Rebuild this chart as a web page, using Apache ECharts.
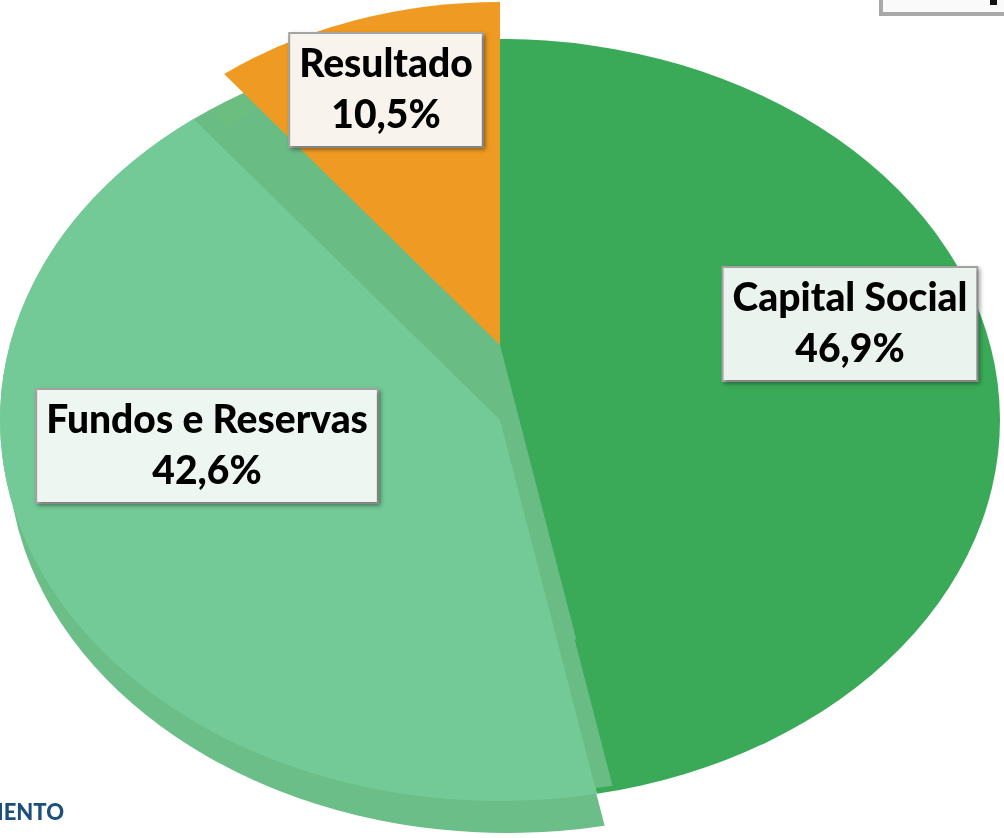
<!DOCTYPE html>
<html>
<head>
<meta charset="utf-8">
<script src="https://cdn.jsdelivr.net/npm/echarts@6.0.0/dist/echarts.min.js"></script>
<style>
html, body { margin: 0; padding: 0; background: #fff; overflow: hidden; width: 1004px; height: 838px; }
#torta { position: absolute; left: 0; top: 0; width: 1004px; height: 838px; transform: scaleX(1.3123); transform-origin: 500px 0; }
#rotulos { position: absolute; left: 0; top: 0; width: 1004px; height: 838px; }
</style>
</head>
<body>
<div id="torta"></div>
<div id="rotulos"></div>
<script>
// dados do grafico
var categorias = ['Capital Social', 'Fundos e Reservas', 'Resultado'];
var percentagens = [46.9, 42.6, 10.5];

// posicao dos rotulos (centro da caixa)
var posicoesRotulos = [[850, 324], [207, 446], [386, 90]];
var fundosRotulos = ['#ebf3ee', '#eef6f2', '#f8f3ec'];

var transparente = 'rgba(0,0,0,0)';

// uma copia das fatias, so com as cores indicadas visiveis
function fatias(cores) {
    return categorias.map(function (nome, i) {
        return {
            name: nome,
            value: percentagens[i],
            itemStyle: { color: cores[i] || transparente }
        };
    });
}

function serieTorta(nome, centro, raio, dados, z) {
    return {
        name: nome,
        type: 'pie',
        center: centro,
        radius: raio,
        startAngle: 90,
        clockwise: true,
        z: z,
        silent: true,
        animation: false,
        label: { show: false },
        labelLine: { show: false },
        itemStyle: { borderWidth: 0 },
        emphasis: { disabled: true },
        data: dados
    };
}

// torta achatada (esticada na horizontal pelo css)
var torta = echarts.init(document.getElementById('torta'), null, { renderer: 'svg' });
torta.setOption({
    animation: false,
    series: [
        serieTorta('base', [500, 420], 381, fatias(['#3aaa58', '#73ca96', '#6bbd80']), 1),
        serieTorta('lado', [506, 452], 381, fatias([null, '#6bbe88', null]), 2),
        serieTorta('corte', [512, 412], 381, fatias([null, '#6abc85', null]), 3),
        serieTorta('corteAlto', [500, 345], 300, fatias([null, '#6abc85', null]), 3),
        serieTorta('face', [500, 420], 381, fatias([null, '#73ca96', null]), 4),
        serieTorta('destaque', [500, 345], 343, fatias([null, null, '#ef9b23']), 5)
    ]
});

// rotulos por cima, sem esticar o texto
var rotulos = echarts.init(document.getElementById('rotulos'));
rotulos.setOption({
    animation: false,
    graphic: [
        {
            type: 'rect',
            shape: { x: 881, y: -20, width: 140, height: 34 },
            style: { fill: '#fafafa', stroke: '#a9a9a9', lineWidth: 4 }
        },
        {
            type: 'rect',
            shape: { x: 990, y: -4, width: 7, height: 9 },
            style: { fill: '#111' }
        },
        {
            type: 'text',
            left: -3,
            top: 802,
            style: { text: 'IENTO', fill: '#1c4f7b', font: '900 22px Lato' }
        }
    ],
    series: [{
        type: 'pie',
        center: [500, 420],
        radius: 381,
        startAngle: 90,
        silent: true,
        animation: false,
        itemStyle: { color: transparente, borderWidth: 0 },
        labelLine: { show: false },
        label: {
            show: true,
            position: 'inside',
            formatter: function (p) {
                return p.name + '\n' + p.value.toFixed(1).replace('.', ',') + '%';
            },
            fontFamily: 'Lato',
            fontWeight: 900,
            fontSize: 39,
            lineHeight: 51,
            color: '#000',
            padding: [5, 9],
            borderColor: '#a6a6a6',
            borderWidth: 2,
            shadowColor: 'rgba(0,0,0,0.3)',
            shadowBlur: 4,
            shadowOffsetX: 2,
            shadowOffsetY: 2
        },
        labelLayout: function (p) {
            var pos = posicoesRotulos[p.dataIndex];
            return { x: pos[0], y: pos[1], align: 'center', verticalAlign: 'middle' };
        },
        data: categorias.map(function (nome, i) {
            return {
                name: nome,
                value: percentagens[i],
                label: { backgroundColor: fundosRotulos[i] }
            };
        })
    }]
});
</script>
</body>
</html>
